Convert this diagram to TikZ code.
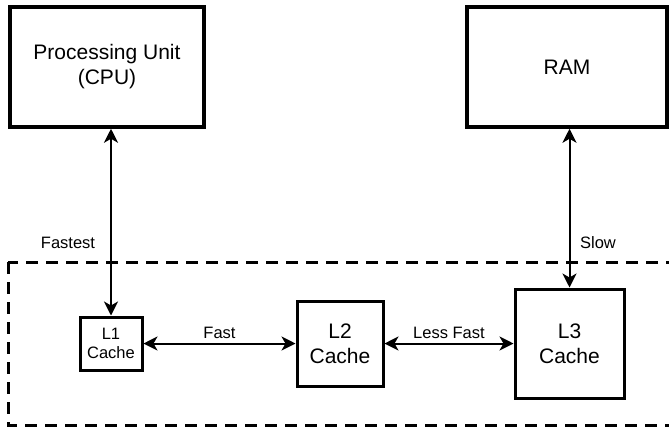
\documentclass[tikz,border=0pt]{standalone}
\usepackage{fontspec}
\setmainfont{Liberation Sans}
\usepackage{tikz}
\usetikzlibrary{arrows.meta}

\begin{document}
\begin{tikzpicture}[x=1pt, y=-1pt,
	unit/.style={draw, line width=3.5pt, inner sep=0pt, align=center, font=\fontsize{21}{25}\selectfont},
	cache/.style={unit, line width=3pt},
	link/.style={line width=2pt, {Stealth[length=14pt,width=14pt,inset=4pt]}-{Stealth[length=14pt,width=14pt,inset=4pt]}},
	lbl/.style={font=\fontsize{16.5}{19}\selectfont, inner sep=0pt}]
	\useasboundingbox (0,0) rectangle (669,432);
	\node[unit, minimum width=194pt, minimum height=120pt] (cpu) at (107,67) {Processing Unit\\(CPU)};
	\node[unit, minimum width=200pt, minimum height=120pt] (ram) at (567,67) {RAM};
	\draw[black, line width=3pt, dash pattern=on 12pt off 8pt] (8,262) rectangle (690,425);
	\node[cache, minimum width=62pt, minimum height=53pt, font=\fontsize{16.5}{19}\selectfont] (lone) at (111,343.5) {L1\\Cache};
	\node[cache, minimum width=86pt, minimum height=85pt] (ltwo) at (340,343.5) {L2\\Cache};
	\node[cache, minimum width=109pt, minimum height=109pt] (lthree) at (569.5,343.5) {L3\\Cache};
	\draw[link] (lone.north |- cpu.south) -- (lone.north);
	\draw[link] (lthree.north |- ram.south) -- (lthree.north);
	\draw[link] (lone.east) -- node[lbl, above=4pt] (fast) {Fast} (ltwo.west);
	\draw[link] (ltwo.east) -- node[lbl, above=4pt] (lessfast) {Less Fast} (lthree.west);
	\node[lbl] (fastest) at (68,243) {Fastest};
	\node[lbl] (slow) at (598,243) {Slow};
\end{tikzpicture}
\end{document}
